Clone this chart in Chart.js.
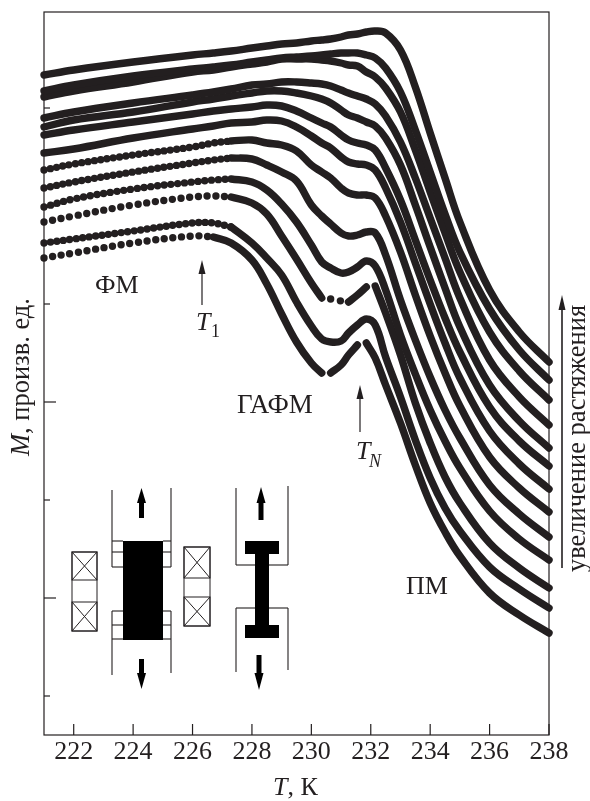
<!DOCTYPE html>
<html lang="ru">

<head>
    <meta charset="UTF-8">
    <title>M(T)</title>
    <script src="https://cdn.jsdelivr.net/npm/chart.js"></script>
    <style>
        body { margin: 0; background: #fff; }
        canvas { display: block; }
    </style>
</head>

<body>
    <canvas id="grafico" width="590" height="801"></canvas>

    <script>
        // temperatura, K
        const T = [221, 222, 224, 226, 226.7, 227.3, 228, 228.5, 229, 229.5, 230, 230.35, 230.65, 231, 231.25, 231.55, 231.85, 232.15, 232.5, 233, 233.5, 234, 234.5, 235, 236, 237, 238]

        // M, arb. units, top curve first
        const M0 = [660, 665, 673, 680, 682, 684, 687, 689, 691, 692, 694, 695, 696, 698, 700, 701, 703, 704, 702, 685, 648, 602, 557, 513, 445, 403, 373]
        const M1 = [644, 650, 659, 666, 668, 670, 673, 675, 677, 678, 679, 680, 681, 682, 682, 682, 680, 677, 667, 643, 605, 563, 521, 483, 426, 385, 355]
        const M2 = [638, 644, 653, 663, 665, 668, 671, 673, 676, 676, 676, 675, 674, 672, 670, 669, 663, 658, 647, 623, 585, 543, 502, 463, 403, 364, 335]
        const M3 = [617, 623, 632, 640, 643, 646, 650, 651, 653, 653, 652, 651, 649, 645, 642, 639, 636, 631, 619, 593, 557, 517, 477, 437, 375, 338, 310]
        const M4 = [608, 615, 623, 633, 636, 639, 642, 644, 644, 642, 639, 636, 632, 625, 620, 617, 613, 609, 597, 570, 530, 488, 447, 408, 350, 314, 287]
        const M5 = [600, 605, 613, 621, 624, 626, 628, 630, 629, 624, 617, 612, 608, 600, 595, 592, 590, 585, 567, 535, 495, 455, 417, 383, 328, 294, 269]
        const M6 = [582, 586, 597, 606, 609, 612, 613, 615, 614, 608, 599, 592, 587, 578, 573, 571, 570, 565, 547, 513, 472, 431, 392, 357, 304, 271, 246]
        const M7 = [565, 571, 580, 588, 592, 594, 595, 592, 590, 584, 570, 563, 557, 547, 542, 540, 540, 537, 519, 483, 440, 399, 362, 329, 278, 247, 223]
        const M8 = [547, 553, 563, 572, 575, 577, 576, 570, 563, 554, 530, 519, 511, 502, 499, 500, 503, 502, 480, 435, 395, 358, 325, 297, 250, 221, 198]
        const M9 = [528, 536, 546, 553, 555, 556, 553, 545, 531, 513, 490, 473, 467, 462, 463, 468, 474, 469, 445, 400, 361, 325, 294, 267, 224, 196, 175]
        const M10 = [513, 519, 530, 538, 539, 538, 532, 521, 499, 476, 452, 437, 436, 434, 433, 440, 448, 449, 422, 380, 332, 292, 258, 232, 192, 167, 147]
        const M11 = [492, 496, 504, 512, 512, 508, 492, 477, 460, 433, 409, 396, 393, 394, 402, 410, 416, 410, 378, 338, 295, 257, 227, 204, 168, 146, 127]
        const M12 = [477, 482, 492, 499, 498, 492, 475, 451, 421, 393, 372, 362, 362, 370, 380, 390, 392, 377, 350, 312, 270, 232, 203, 179, 142, 120, 102]
        const curvas = [M0, M1, M2, M3, M4, M5, M6, M7, M8, M9, M10, M11, M12]

        const xTicks = [222, 224, 226, 228, 230, 232, 234, 236, 238]
        const yTicksMaior = [137, 333, 529]
        const yTicksMenor = [39, 235, 431, 627]

        const preto = '#231f20'
        const serif = '"Liberation Serif"'

        // pedacos de cada curva: [inicio, fim, espaco entre pontos] (0 = linha cheia)
        function pedacos(i) {
            if (i == 7) return [[0, 5, 6.4], [5, 26, 0]]
            if (i == 8) return [[0, 5, 6.4], [5, 26, 0]]
            if (i == 9) return [[0, 5, 6.8], [5, 26, 0]]
            if (i == 10) return [[0, 5, 8.7], [5, 11, 0], [12, 13, 10], [14, 16, 0], [17, 26, 0]]
            if (i == 11) return [[0, 5, 6.5], [5, 26, 0]]
            if (i == 12) return [[0, 4, 8.7], [4, 11, 0], [12, 15, 0], [16, 26, 0]]
            return [[0, 26, 0]]
        }

        const datasets = []
        curvas.forEach((m, i) => {
            pedacos(i).forEach(p => {
                const dados = []
                for (let j = p[0]; j <= p[1]; j++) dados.push({ x: T[j], y: m[j] })
                datasets.push({
                    data: dados,
                    borderColor: preto,
                    borderWidth: 7.4,
                    borderCapStyle: 'round',
                    borderJoinStyle: 'round',
                    borderDash: p[2] ? [0, p[2]] : [],
                    tension: 0.4,
                    pointRadius: 0,
                    clip: 10
                })
            })
        })

        function linha(c, x1, y1, x2, y2) {
            c.beginPath()
            c.moveTo(x1, y1)
            c.lineTo(x2, y2)
            c.stroke()
        }

        function seta(c, x, y1, y2, w, hw, hl) {
            // seta vertical, de y1 ate a ponta em y2
            const d = y2 > y1 ? 1 : -1
            c.lineWidth = w
            linha(c, x, y1, x, y2 - d * hl)
            c.beginPath()
            c.moveTo(x, y2)
            c.lineTo(x - hw, y2 - d * hl)
            c.lineTo(x + hw, y2 - d * hl)
            c.closePath()
            c.fill()
        }

        function bobina(c, x, y, w, h1, h2, h) {
            c.lineWidth = 1
            c.strokeRect(x, y, w, h)
            ;[[y, h1], [y + h - h2, h2]].forEach(q => {
                c.strokeRect(x, q[0], w, q[1])
                linha(c, x, q[0], x + w, q[0] + q[1])
                linha(c, x + w, q[0], x, q[0] + q[1])
            })
        }

        function texto(c, s, x, y, fonte) {
            c.font = fonte
            c.fillText(s, x, y)
            return x + c.measureText(s).width
        }

        const desenhos = {
            id: 'desenhos',
            afterDraw(chart) {
                const c = chart.ctx
                const a = chart.chartArea
                const sx = chart.scales.x
                const sy = chart.scales.y
                c.save()
                c.strokeStyle = preto
                c.fillStyle = preto

                // moldura e ticks para dentro
                c.lineWidth = 1.2
                c.strokeRect(a.left, a.top, a.right - a.left, a.bottom - a.top)
                xTicks.forEach(v => {
                    const px = sx.getPixelForValue(v)
                    linha(c, px, a.bottom, px, a.bottom - 11)
                })
                yTicksMaior.forEach(v => {
                    const py = sy.getPixelForValue(v)
                    linha(c, a.left, py, a.left + 12, py)
                })
                yTicksMenor.forEach(v => {
                    const py = sy.getPixelForValue(v)
                    linha(c, a.left, py, a.left + 6, py)
                })

                // textos
                c.textBaseline = 'alphabetic'
                c.textAlign = 'left'
                texto(c, 'ФМ', 95, 293, '26px ' + serif)
                texto(c, 'ГАФМ', 237, 413, '27px ' + serif)
                texto(c, 'ПМ', 406, 594, '26px ' + serif)
                texto(c, 'T', 196, 330, 'italic 26px ' + serif)
                texto(c, '1', 211, 337, '18px ' + serif)
                texto(c, 'T', 356, 459, 'italic 26px ' + serif)
                texto(c, 'N', 369, 467, 'italic 18px ' + serif)

                let fim = texto(c, 'T', 273, 795, 'italic 26px ' + serif)
                texto(c, ', К', fim, 795, '26px ' + serif)

                c.save()
                c.translate(29, 456)
                c.rotate(-Math.PI / 2)
                fim = texto(c, 'M', 0, 0, 'italic 26.5px ' + serif)
                texto(c, ', произв. ед.', fim, 0, '26.5px ' + serif)
                c.restore()

                c.save()
                c.translate(585, 572)
                c.rotate(-Math.PI / 2)
                texto(c, 'увеличение растяжения', 0, 0, '26.5px ' + serif)
                c.restore()

                // setas
                seta(c, 202, 305, 260, 1.2, 3.5, 14)
                seta(c, 360, 432, 385, 1.2, 3.5, 14)
                seta(c, 562, 568, 295, 1.6, 3.5, 15)

                // esquema: bobinas
                bobina(c, 72, 552, 25, 28, 29, 79)
                bobina(c, 184, 547, 26, 31, 29, 79)

                // esquema: amostra larga
                c.lineWidth = 1.1
                linha(c, 112, 490, 112, 567)
                linha(c, 112, 611, 112, 675)
                linha(c, 171, 488, 171, 567)
                linha(c, 171, 611, 171, 673)
                ;[541, 552, 567, 611, 625, 639].forEach(y => {
                    linha(c, 112, y, 123, y)
                    linha(c, 163, y, 171, y)
                })
                c.fillStyle = '#000'
                c.strokeStyle = '#000'
                c.fillRect(123, 541, 40, 99)
                seta(c, 141.5, 518, 488, 5, 4.5, 15)
                seta(c, 141.5, 659, 689, 5, 4.5, 16)

                // esquema: amostra em I
                c.lineWidth = 1.1
                c.strokeStyle = preto
                linha(c, 236, 488, 236, 565)
                linha(c, 236, 565, 255, 565)
                linha(c, 288, 486, 288, 565)
                linha(c, 268, 565, 288, 565)
                linha(c, 236, 608, 236, 672)
                linha(c, 236, 608, 255, 608)
                linha(c, 288, 608, 288, 670)
                linha(c, 268, 608, 288, 608)
                c.strokeStyle = '#000'
                c.fillRect(245, 541, 34, 13)
                c.fillRect(255, 554, 14, 71)
                c.fillRect(245, 625, 34, 13)
                seta(c, 261, 520, 487, 5, 4.5, 16)
                seta(c, 259, 655, 690, 5, 4.5, 17)

                c.restore()
            }
        }

        new Chart(document.getElementById('grafico'), {
            type: 'line',
            data: { datasets: datasets },
            plugins: [desenhos],
            options: {
                responsive: false,
                animation: false,
                events: [],
                layout: { padding: { left: 44, right: 41, top: 12, bottom: 0 } },
                plugins: { legend: { display: false }, tooltip: { enabled: false } },
                scales: {
                    x: {
                        type: 'linear',
                        min: 221,
                        max: 238,
                        afterBuildTicks: s => { s.ticks = xTicks.map(v => ({ value: v })) },
                        afterFit: s => { s.height = 66 },
                        grid: { display: false, drawTicks: false },
                        border: { display: false },
                        ticks: {
                            autoSkip: false,
                            maxRotation: 0,
                            padding: 2,
                            color: preto,
                            font: { family: 'Liberation Serif', size: 26 }
                        }
                    },
                    y: {
                        min: 0,
                        max: 723,
                        afterBuildTicks: s => { s.ticks = [] },
                        afterFit: s => { s.width = 0 },
                        grid: { display: false },
                        border: { display: false },
                        ticks: { display: false }
                    }
                }
            }
        })
    </script>
</body>

</html>
